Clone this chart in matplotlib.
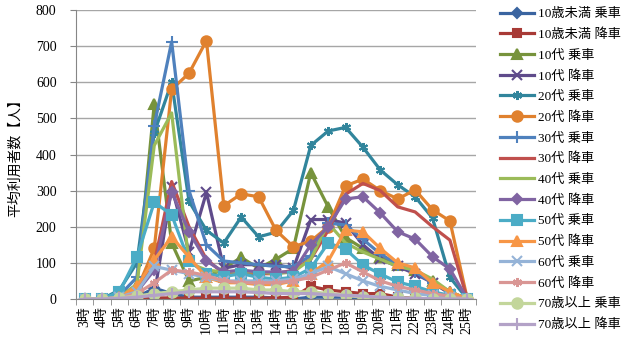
import matplotlib
matplotlib.use("Agg")
import matplotlib.pyplot as plt

plt.rcParams['font.family'] = ['Liberation Serif', 'Noto Sans CJK JP', 'DejaVu Sans']

hours = ["3時", "4時", "5時", "6時", "7時", "8時", "9時", "10時", "11時", "12時", "13時", "14時",
         "15時", "16時", "17時", "18時", "19時", "20時", "21時", "22時", "23時", "24時", "25時"]

u10_on = [0, 0, 2, 5, 30, 15, 5, 5, 5, 5, 5, 3, 0, 5, 5, 5, 3, 2, 1, 1, 0, 0, 0]
u10_off = [0, 0, 0, 2, 3, 3, 2, 2, 2, 2, 2, 3, 5, 35, 25, 20, 15, 15, 5, 2, 0, 0, 0]
teens_on = [0, 0, 5, 40, 540, 155, 50, 60, 85, 115, 85, 110, 140, 350, 255, 170, 140, 115, 95, 80, 50, 20, 0]
teens_off = [0, 0, 0, 10, 10, 310, 130, 295, 85, 95, 95, 95, 85, 220, 220, 210, 150, 110, 90, 70, 45, 15, 0]
twenties_on = [0, 0, 25, 100, 460, 600, 270, 190, 155, 227, 172, 185, 245, 425, 465, 475, 420, 357, 316, 283, 224, 60, 0]
twenties_off = [0, 0, 5, 25, 140, 580, 625, 715, 258, 291, 283, 190, 145, 160, 200, 313, 332, 300, 277, 302, 247, 216, 0]
thirties_on = [0, 0, 10, 60, 480, 712, 300, 150, 105, 100, 95, 90, 90, 120, 210, 205, 165, 125, 95, 75, 45, 20, 0]
thirties_off = [0, 0, 5, 30, 100, 325, 200, 110, 70, 70, 70, 70, 80, 110, 190, 290, 320, 300, 255, 241, 200, 163, 0]
forties_on = [0, 0, 5, 40, 425, 515, 100, 80, 75, 75, 75, 70, 75, 110, 210, 155, 130, 110, 90, 80, 55, 20, 0]
forties_off = [0, 0, 5, 20, 80, 297, 186, 105, 75, 80, 75, 75, 75, 150, 200, 277, 283, 238, 186, 166, 117, 83, 0]
fifties_on = [0, 0, 20, 116, 268, 233, 105, 70, 62, 70, 60, 55, 60, 85, 155, 138, 94, 69, 47, 35, 20, 10, 0]
fifties_off = [0, 0, 5, 35, 108, 172, 116, 60, 45, 45, 40, 40, 50, 70, 105, 191, 186, 140, 100, 86, 44, 20, 0]
sixties_on = [0, 0, 5, 20, 90, 80, 70, 60, 50, 50, 50, 50, 55, 70, 90, 70, 50, 35, 25, 15, 10, 5, 0]
sixties_off = [0, 0, 3, 15, 45, 80, 75, 65, 50, 45, 45, 45, 50, 60, 80, 100, 75, 50, 35, 25, 15, 8, 0]
seventies_on = [0, 0, 3, 8, 15, 20, 25, 30, 30, 30, 25, 25, 20, 20, 15, 10, 5, 5, 3, 2, 1, 0, 0]
seventies_off = [0, 0, 2, 5, 10, 15, 20, 20, 20, 20, 18, 15, 15, 15, 12, 10, 8, 5, 3, 2, 1, 0, 0]

labels = ["10歳未満 乗車", "10歳未満 降車", "10代 乗車", "10代 降車", "20代 乗車", "20代 降車",
          "30代 乗車", "30代 降車", "40代 乗車", "40代 降車", "50代 乗車", "50代 降車",
          "60代 乗車", "60代 降車", "70歳以上 乗車", "70歳以上 降車"]
series = [u10_on, u10_off, teens_on, teens_off, twenties_on, twenties_off,
          thirties_on, thirties_off, forties_on, forties_off, fifties_on, fifties_off,
          sixties_on, sixties_off, seventies_on, seventies_off]

colors = ["#3A64A0", "#A83A36", "#77933C", "#5F4B8B", "#31859C", "#E0812E",
          "#4F81BD", "#C0504D", "#9BBB59", "#8064A2", "#4BACC6", "#F79646",
          "#95B3D7", "#D99694", "#C3D69B", "#B3A2C7"]
markers = ["D", "s", "^", "x", (6, 2, 0), "o", "+", "", "", "D", "s", "^", "x", (6, 2, 0), "o", "+"]
msizes = [5, 6, 6.5, 6.5, 6.5, 7.5, 8, 0, 0, 5.5, 6.5, 6.5, 6.5, 6.5, 7.5, 8]

fig = plt.figure(figsize=(6.23, 3.47), dpi=100)
ax = fig.add_axes([76 / 623, 48 / 347, 400 / 623, 289 / 347])

x = list(range(len(hours)))
for vals, lab, c, m, ms in zip(series, labels, colors, markers, msizes):
    ax.plot(x, vals, color=c, lw=2.3, marker=m if m else None, markersize=ms,
            markeredgewidth=1.5, label=lab)

ax.set_xlim(-0.5, len(hours) - 0.5)
ax.set_ylim(0, 800)
ax.set_yticks(range(0, 801, 100))
ax.set_xticks(x)
ax.set_xticklabels(hours, rotation=90, fontsize=10)
ax.set_xticks([i + 0.5 for i in range(-1, len(hours))], minor=True)
ax.tick_params(axis='x', which='major', length=0, pad=5)
ax.tick_params(axis='x', which='minor', length=4, color="#868686")
ax.tick_params(axis='y', length=4, color="#868686", labelsize=10, pad=10)
ax.yaxis.grid(True, color="#A6A6A6", lw=1)
ax.set_axisbelow(True)
for s in ["top", "right"]:
    ax.spines[s].set_visible(False)
ax.spines["left"].set_color("#868686")
ax.spines["bottom"].set_color("#868686")
ax.set_ylabel("平均利用者数【人】", fontsize=10, labelpad=10)

fig.legend(loc="upper left", bbox_to_anchor=(0.79, 1.0), frameon=False, fontsize=9.5,
           handlelength=2.6, handletextpad=0.3, labelspacing=0.63, borderaxespad=0.2)

fig.savefig("out.png", dpi=100)
